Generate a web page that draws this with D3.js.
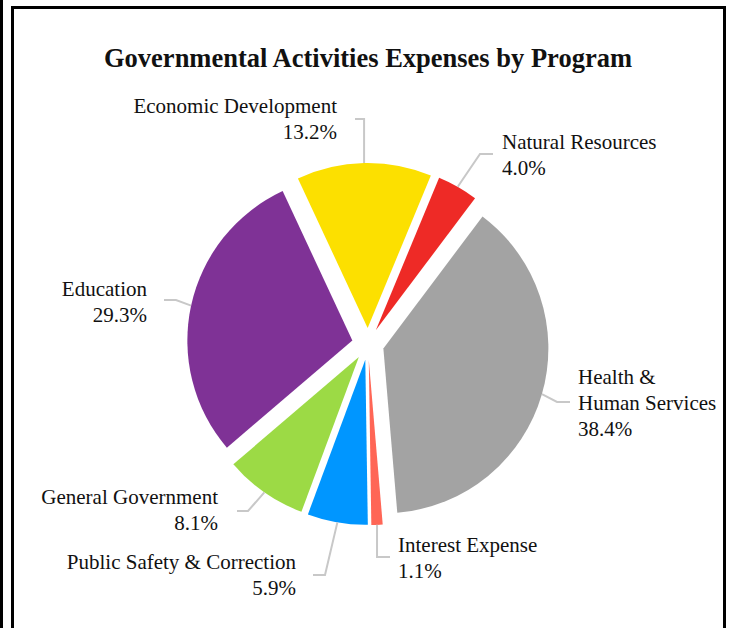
<!DOCTYPE html>
<html>
<head>
<meta charset="utf-8">
<script src="https://cdn.jsdelivr.net/npm/d3@7"></script>
<style>
  html, body { margin: 0; padding: 0; background: #fff; }
  svg { display: block; }
  text { font-family: "Liberation Serif", "Times New Roman", serif; fill: #111; }
</style>
</head>
<body>
<svg id="chart" width="729" height="628"></svg>
<script>
// Program categories, clockwise from the top
const categories = [
  "Economic Development",
  "Natural Resources",
  "Health & Human Services",
  "Interest Expense",
  "Public Safety & Correction",
  "General Government",
  "Education"
];
const values = [13.2, 4.0, 38.4, 1.1, 5.9, 8.1, 29.3];
const labelLines = [
  ["Economic Development"],
  ["Natural Resources"],
  ["Health &", "Human Services"],
  ["Interest Expense"],
  ["Public Safety & Correction"],
  ["General Government"],
  ["Education"]
];
const colors = ["#FCE000", "#EE2A26", "#A3A3A3", "#FF6656", "#0096FF", "#9CDA45", "#7F3296"];

// label placement: end of leader line, text anchor, elbow style
const labelLayout = [
  { end: [355, 119], anchor: "end",   elbow: "vertical", tx: 337, ty: 113 },
  { end: [493, 154], anchor: "start", elbow: "h", dx: -13, tx: 502, ty: 149 },
  { end: [570, 402], anchor: "start", elbow: "h", dx: -13, tx: 578, ty: 384 },
  { end: [390, 557], anchor: "start", elbow: "vertical", tx: 398, ty: 552 },
  { end: [313, 575], anchor: "end",   elbow: "h", dx: 12, tx: 296, ty: 569 },
  { end: [237, 511], anchor: "end",   elbow: "h", dx: 11, tx: 218, ty: 504 },
  { end: [164, 300], anchor: "end",   elbow: "h", dx: 12, tx: 147, ty: 296 }
];

const svg = d3.select("#chart");

// page frame
svg.append("line").attr("x1", 1.5).attr("x2", 1.5).attr("y1", 0).attr("y2", 628)
  .attr("stroke", "#000").attr("stroke-width", 3);
svg.append("path").attr("d", "M12.5,628V7.5H724.5V628")
  .attr("fill", "none").attr("stroke", "#000").attr("stroke-width", 3);

svg.append("text")
  .attr("x", 368).attr("y", 67)
  .attr("text-anchor", "middle")
  .style("font-size", "26.5px").style("font-weight", "bold")
  .text("Governmental Activities Expenses by Program");

const cx = 368, cy = 344, radius = 165, explode = 16;
const startA = -25 * Math.PI / 180;

const pie = d3.pie().sort(null).value(d => d)
  .startAngle(startA).endAngle(startA + 2 * Math.PI);
const arcs = pie(values);
const arc = d3.arc().innerRadius(0).outerRadius(radius);

const g = svg.append("g").attr("transform", `translate(${cx},${cy})`);

const mid = a => (a.startAngle + a.endAngle) / 2;

g.selectAll("path.slice").data(arcs).join("path")
  .attr("class", "slice")
  .attr("d", arc)
  .attr("fill", (d, i) => colors[i])
  .attr("transform", d => {
    const m = mid(d);
    return `translate(${explode * Math.sin(m)},${-explode * Math.cos(m)})`;
  });

// leader lines and labels
arcs.forEach((d, i) => {
  const m = mid(d);
  const r = radius + explode;
  const sx = cx + r * Math.sin(m), sy = cy - r * Math.cos(m);
  const L = labelLayout[i];
  const elbow = L.elbow === "vertical" ? [sx, L.end[1]] : [L.end[0] + L.dx, L.end[1]];
  svg.append("polyline")
    .attr("points", [[sx, sy], elbow, L.end].map(p => p.join(",")).join(" "))
    .attr("fill", "none").attr("stroke", "#C8C8C8").attr("stroke-width", 2);

  const t = svg.append("text")
    .attr("text-anchor", L.anchor)
    .style("font-size", "21px");
  const lines = labelLines[i].concat([values[i].toFixed(1) + "%"]);
  lines.forEach((s, k) => {
    t.append("tspan").attr("x", L.tx).attr("y", L.ty + k * 26).text(s);
  });
});
</script>
</body>
</html>
